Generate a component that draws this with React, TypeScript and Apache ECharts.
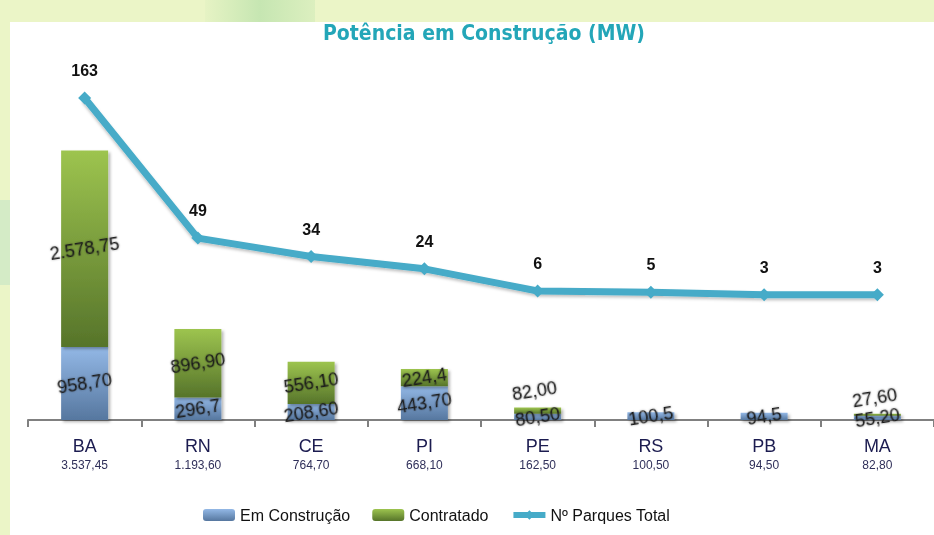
import React, { useEffect, useRef } from "react";
import * as echarts from "echarts";

const categories = ["BA", "RN", "CE", "PI", "PE", "RS", "PB", "MA"];
const totalLabels = ["3.537,45", "1.193,60", "764,70", "668,10", "162,50", "100,50", "94,50", "82,80"];
const emConstrucao = [958.7, 296.7, 208.6, 443.7, 80.5, 100.5, 94.5, 55.2];
const emConstrucaoLabels = ["958,70", "296,7", "208,60", "443,70", "80,50", "100,5", "94,5", "55,20"];
const contratado = [2578.75, 896.9, 556.1, 224.4, 82.0, null, null, 27.6];
const contratadoLabels = ["2.578,75", "896,90", "556,10", "224,4", "82,00", "", "", "27,60"];
const parques = [163, 49, 34, 24, 6, 5, 3, 3];

const labelOffsets: Record<number, number[]> = { 4: [0, -20], 7: [0, -17] };

const FONT = "Arial, 'Liberation Sans', sans-serif";
const LINE_COLOR = "#46abc8";

export default function App() {
  const ref = useRef<HTMLDivElement>(null);
  useEffect(() => {
    if (!ref.current) return;
    const chart = echarts.init(ref.current, undefined, { renderer: "svg" });
    const barLabel = {
      show: true,
      position: "inside",
      rotate: 9,
      fontSize: 18,
      fontFamily: FONT,
      color: "#1a1a1a",
      textShadowColor: "rgba(0,0,0,0.35)",
      textShadowBlur: 2,
    };
    const blueGrad = new echarts.graphic.LinearGradient(0, 0, 0, 1, [
      { offset: 0, color: "#93b8e6" },
      { offset: 1, color: "#56779f" },
    ]);
    const greenGrad = new echarts.graphic.LinearGradient(0, 0, 0, 1, [
      { offset: 0, color: "#9dc44f" },
      { offset: 1, color: "#56742a" },
    ]);
    const barShadow = {
      shadowBlur: 3,
      shadowColor: "rgba(0,0,0,0.3)",
      shadowOffsetX: 2,
      shadowOffsetY: 2,
    };
    chart.setOption({
      animation: false,
      graphic: [
        {
          type: "rect",
          shape: { x: 0, y: 0, width: 934, height: 535 },
          style: { fill: "#ebf5c7" },
          silent: true,
          z: -10,
        },
        {
          type: "rect",
          shape: { x: 205, y: 0, width: 110, height: 22 },
          style: {
            fill: new echarts.graphic.LinearGradient(0, 0, 1, 0, [
              { offset: 0, color: "#e6f3c4" },
              { offset: 0.5, color: "#c6e6b2" },
              { offset: 1, color: "#dcefbf" },
            ]),
          },
          silent: true,
          z: -9,
        },
        {
          type: "rect",
          shape: { x: 0, y: 200, width: 10, height: 85 },
          style: { fill: "#d4ebc6" },
          silent: true,
          z: -9,
        },
        {
          type: "rect",
          shape: { x: 10, y: 22, width: 924, height: 513 },
          style: { fill: "#ffffff" },
          silent: true,
          z: -8,
        },
        {
          type: "text",
          x: 484,
          y: 33,
          style: {
            text: "Potência em Construção (MW)",
            fontSize: 21,
            fontWeight: "bold",
            fontFamily: "'Liberation Sans Narrow', 'DejaVu Sans Condensed', Arial, sans-serif",
            fill: "#23a6b8",
            align: "center",
            verticalAlign: "middle",
          },
          z: 10,
        },
      ],
      legend: {
        left: 198,
        top: 502,
        itemWidth: 32,
        itemHeight: 12,
        itemGap: 22,
        textStyle: { fontSize: 16, fontFamily: FONT, color: "#111" },
        data: [
          "Em Construção",
          "Contratado",
          { name: "Nº Parques Total", lineStyle: { width: 6, color: LINE_COLOR } },
        ],
      },
      grid: { left: 28, top: 39, width: 909, height: 381, containLabel: false },
      xAxis: {
        type: "category",
        data: categories,
        axisLine: { lineStyle: { color: "#808080", width: 2 } },
        axisTick: { show: true, length: 7, lineStyle: { color: "#808080", width: 2 } },
        axisLabel: {
          margin: 15,
          interval: 0,
          formatter: (v: string, i: number) => `{a|${v}}\n{b|${totalLabels[i]}}`,
          rich: {
            a: { fontSize: 18, lineHeight: 21, fontFamily: FONT, color: "#1c1c50" },
            b: { fontSize: 12, lineHeight: 18, fontFamily: FONT, color: "#30305a" },
          },
        },
      },
      yAxis: [
        { type: "value", min: 0, max: 5000, show: false, splitLine: { show: false } },
        { type: "value", min: -99, max: 211, show: false, splitLine: { show: false } },
      ],
      series: [
        {
          name: "Em Construção",
          type: "bar",
          stack: "a",
          barWidth: 47,
          itemStyle: { color: blueGrad, ...barShadow },
          label: { ...barLabel, formatter: (p: any) => emConstrucaoLabels[p.dataIndex] },
          data: emConstrucao,
        },
        {
          name: "Contratado",
          type: "bar",
          stack: "a",
          barWidth: 47,
          itemStyle: { color: greenGrad, ...barShadow },
          label: { ...barLabel, formatter: (p: any) => contratadoLabels[p.dataIndex] },
          data: contratado.map((v, i) =>
            labelOffsets[i] ? { value: v, label: { offset: labelOffsets[i] } } : v
          ),
        },
        {
          name: "Nº Parques Total",
          type: "line",
          yAxisIndex: 1,
          clip: false,
          symbol: "diamond",
          symbolSize: 13,
          lineStyle: {
            color: LINE_COLOR,
            width: 7,
            shadowColor: "rgba(0,0,0,0.25)",
            shadowBlur: 3,
            shadowOffsetY: 2,
          },
          itemStyle: { color: LINE_COLOR },
          label: {
            show: true,
            position: "top",
            distance: 13,
            fontSize: 16,
            fontWeight: "bold",
            fontFamily: FONT,
            color: "#111",
          },
          data: parques,
          z: 5,
        },
      ],
    });
    return () => chart.dispose();
  }, []);
  return <div ref={ref} style={{ width: 934, height: 535, position: "fixed", left: 0, top: 0 }} />;
}
